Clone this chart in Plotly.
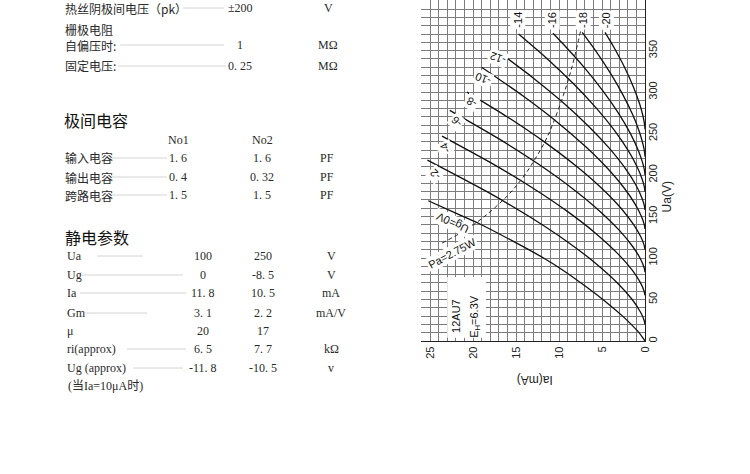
import plotly.graph_objects as go

# 12AU7 plate curves: anode current Ia (mA) against anode voltage Ua (V)
ug_labels = ["Ug=0V", "-2", "-4", "-6", "-8", "-10", "-12", "-14", "-16", "-18", "-20"]

ua_g0 = [0, 10, 20, 30, 45, 65, 85, 100, 120, 141, 155, 169]
ia_g0 = [0, 0.7, 1.6, 2.6, 4.3, 6.8, 9.5, 11.8, 15.3, 19.2, 22.2, 25.2]
ua_g2 = [20, 25, 35, 50, 70, 95, 120, 150, 180, 218]
ia_g2 = [0, 0.1, 0.53, 1.49, 3.21, 5.9, 9.08, 13.46, 18.38, 25.3]
ua_g4 = [55, 60, 70, 85, 105, 130, 155, 185, 215, 247]
ia_g4 = [0, 0.1, 0.52, 1.46, 3.14, 5.76, 8.87, 13.15, 17.95, 23.6]
ua_g6 = [83, 88, 98, 113, 133, 158, 183, 213, 243, 278]
ia_g6 = [0, 0.09, 0.48, 1.37, 2.95, 5.42, 8.34, 12.36, 16.88, 22.7]
ua_g8 = [110, 115, 125, 140, 160, 185, 210, 240, 270, 300]
ia_g8 = [0, 0.09, 0.46, 1.3, 2.79, 5.13, 7.9, 11.71, 15.99, 20.7]
ua_g10 = [135, 140, 150, 165, 185, 210, 235, 265, 295, 330]
ia_g10 = [0, 0.08, 0.41, 1.15, 2.47, 4.53, 6.98, 10.34, 14.13, 19.0]
ua_g12 = [158, 163, 173, 188, 208, 233, 258, 288, 318, 349]
ia_g12 = [0, 0.07, 0.38, 1.06, 2.29, 4.21, 6.48, 9.6, 13.12, 17.1]
ua_g14 = [180, 185, 195, 210, 230, 255, 280, 310, 340, 370]
ia_g14 = [0, 0.06, 0.33, 0.92, 1.98, 3.64, 5.61, 8.31, 11.35, 14.7]
ua_g16 = [200, 205, 215, 230, 250, 275, 300, 330, 360, 371]
ia_g16 = [0, 0.05, 0.28, 0.79, 1.69, 3.11, 4.79, 7.1, 9.7, 10.7]
ua_g18 = [222, 227, 237, 252, 272, 297, 322, 350, 372]
ia_g18 = [0, 0.04, 0.23, 0.65, 1.4, 2.58, 3.97, 5.75, 7.3]
ua_g20 = [255, 260, 270, 285, 305, 330, 355, 372]
ia_g20 = [0, 0.04, 0.21, 0.6, 1.3, 2.38, 3.67, 4.65]

# max anode dissipation Pa = 2.75 W
pa_ia = [7.5, 8.5, 9.5, 10.7, 11.6, 12.8, 14.2, 16.0, 18.8, 21.0, 23.6]
pa_ua = [373, 330, 296, 262, 241, 219, 197, 175, 149, 133, 118]

ia_ticks = [0, 5, 10, 15, 20, 25]
ua_ticks = [0, 50, 100, 150, 200, 250, 300, 350]

# left side tables
limit_names = ["热丝阴极间电压（pk）", "栅极电阻", "自偏压时:", "固定电压:"]
limit_values = ["±200", "", "1", "0. 25"]
limit_units = ["V", "", "MΩ", "MΩ"]

cap_title = "极间电容"
cap_cols = ["No1", "No2"]
cap_names = ["输入电容", "输出电容", "跨路电容"]
cap_no1 = ["1. 6", "0. 4", "1. 5"]
cap_no2 = ["1. 6", "0. 32", "1. 5"]
cap_units = ["PF", "PF", "PF"]

static_title = "静电参数"
static_names = ["Ua", "Ug", "Ia", "Gm", "μ", "ri(approx)", "Ug (approx)"]
static_no1 = ["100", "0", "11. 8", "3. 1", "20", "6. 5", "-11. 8"]
static_no2 = ["250", "-8. 5", "10. 5", "2. 2", "17", "7. 7", "-10. 5"]
static_units = ["V", "V", "mA", "mA/V", "", "kΩ", "v"]
static_note = "(当Ia=10μA时)"

W, H = 750, 474
CN = "Noto Sans CJK SC"
SERIF = "Liberation Serif, Noto Sans CJK SC"
SANS = "Liberation Sans, Arial"
GRID = "#7c7c7c"


def px(x):
    return x / W


def py(y):
    return 1 - y / H


fig = go.Figure()

curves = [(ua_g0, ia_g0), (ua_g2, ia_g2), (ua_g4, ia_g4), (ua_g6, ia_g6),
          (ua_g8, ia_g8), (ua_g10, ia_g10), (ua_g12, ia_g12), (ua_g14, ia_g14),
          (ua_g16, ia_g16), (ua_g18, ia_g18), (ua_g20, ia_g20)]

for ua, ia in curves:
    fig.add_trace(go.Scatter(x=ia, y=ua, mode="lines",
                             line=dict(color="#111111", width=1.3,
                                       shape="spline", smoothing=0.6),
                             hoverinfo="skip", showlegend=False))

fig.add_trace(go.Scatter(x=pa_ia, y=pa_ua, mode="lines",
                         line=dict(color="#222222", width=1, dash="4px,3px",
                                   shape="spline"),
                         hoverinfo="skip", showlegend=False))

ann = []

# curve labels
lab_pos = [(22.4, 143, -155), (24.4, 201, -135), (23.3, 232, -115),
           (21.9, 264, -135), (20.2, 288, -150), (18.9, 316, -160),
           (17.1, 341, -160), (14.8, 387, -90), (10.8, 387, -90),
           (7.2, 387, -90), (4.5, 387, -90)]
for text, (x, y, ang) in zip(ug_labels, lab_pos):
    ann.append(dict(x=x, y=y, xref="x", yref="y", text=text, textangle=ang,
                    showarrow=False, bgcolor="white", borderpad=1,
                    font=dict(family=SANS, size=11, color="#111")))

ann.append(dict(x=22.4, y=106, xref="x", yref="y", text="Pa=2.75W",
                textangle=-28, showarrow=False, bgcolor="white", borderpad=1,
                font=dict(family=SANS, size=11, color="#111")))
ann.append(dict(x=22.0, y=30, xref="x", yref="y", text="12AU7",
                textangle=-90, showarrow=False,
                font=dict(family=SANS, size=11, color="#111")))
ann.append(dict(x=19.8, y=30, xref="x", yref="y", text="E<sub>H</sub>=6.3V",
                textangle=-90, showarrow=False,
                font=dict(family=SANS, size=11, color="#111")))

# axis titles
ann.append(dict(x=px(667), y=173, xref="paper", yref="y", text="Ua(V)",
                xanchor="center", yanchor="middle",
                textangle=-90, showarrow=False,
                font=dict(family=SANS, size=12, color="#222")))
ann.append(dict(x=12.8, y=py(380), xref="x", yref="paper", text="Ia(mA)",
                xanchor="center", yanchor="middle",
                textangle=180, showarrow=False,
                font=dict(family=SANS, size=12, color="#222")))


def txt(x, y, s, anchor="left", size=12, family=SERIF, color="#2a2a2a"):
    ann.append(dict(x=px(x), y=py(y), xref="paper", yref="paper", text=s,
                    xanchor=anchor, yanchor="middle", showarrow=False,
                    font=dict(family=family, size=size, color=color)))


shapes = []


def leader(x0, x1, y):
    shapes.append(dict(type="line", xref="paper", yref="paper",
                       x0=px(x0), x1=px(x1), y0=py(y), y1=py(y),
                       line=dict(color="#d4d4d4", width=1)))


# limits block
limit_y = [8, 29, 45, 66]
for name, val, unit, y in zip(limit_names, limit_values, limit_units, limit_y):
    txt(63, y, name, family=CN)
    if val:
        txt(240, y, val, anchor="center")
        txt(328, y, unit, anchor="center")
leader(183, 224, 8)
leader(120, 224, 45)
leader(118, 226, 66)

# capacitances
txt(62, 120, cap_title, size=16, family=CN, color="#111")
txt(178, 140, cap_cols[0], anchor="center")
txt(262, 140, cap_cols[1], anchor="center")
cap_y = [158, 177, 195]
for name, a, b, unit, y in zip(cap_names, cap_no1, cap_no2, cap_units, cap_y):
    txt(63, y, name, family=CN)
    txt(178, y, a, anchor="center")
    txt(262, y, b, anchor="center")
    txt(327, y, unit, anchor="center")
    leader(112, 167, y)

# static parameters
txt(63, 237, static_title, size=16, family=CN, color="#111")
static_y = [256, 275, 293, 313, 331, 349, 368]
for name, a, b, unit, y in zip(static_names, static_no1, static_no2,
                               static_units, static_y):
    txt(65, y, name)
    txt(203, y, a, anchor="center")
    txt(263, y, b, anchor="center")
    if unit:
        txt(331, y, unit, anchor="center")
leader(97, 143, 256)
leader(80, 183, 275)
leader(80, 186, 293)
leader(85, 147, 313)
leader(127, 186, 349)
leader(133, 183, 368)
txt(66, 386, static_note)

# white field behind the tube type label
shapes.append(dict(type="rect", xref="x", yref="y", x0=23.0, x1=18.5,
                   y0=4, y1=77, fillcolor="white", line=dict(width=0),
                   layer="above"))

fig.update_layout(
    width=W, height=H,
    margin=dict(l=0, r=0, t=0, b=0),
    paper_bgcolor="white", plot_bgcolor="white",
    annotations=ann, shapes=shapes,
    xaxis=dict(domain=[421.4 / W, 645 / W], range=[26, 0],
               tickmode="array", tickvals=ia_ticks, tickangle=-90,
               showgrid=True, gridcolor=GRID, gridwidth=1,
               minor=dict(tickmode="linear", tick0=0, dtick=1, showgrid=True,
                          gridcolor=GRID, gridwidth=1),
               showline=True, linecolor="#222", linewidth=1.2,
               zeroline=False, ticks="", automargin=False,
               tickfont=dict(family=SANS, size=11, color="#222")),
    yaxis=dict(domain=[1 - 341 / H, 1], range=[0, 411], side="right",
               tickmode="array", tickvals=ua_ticks, tickangle=-90,
               showgrid=True, gridcolor=GRID, gridwidth=1,
               minor=dict(tickmode="linear", tick0=0, dtick=10, showgrid=True,
                          gridcolor=GRID, gridwidth=1),
               showline=True, linecolor="#222", linewidth=1.2,
               zeroline=False, ticks="", automargin=False,
               ticklabelstandoff=-2,
               tickfont=dict(family=SANS, size=11, color="#222")),
)

# the page body has a default 8px margin, drop it so the figure sits at 0,0
page_css = ("document.body.style.margin='0';"
            "document.body.style.overflow='hidden';"
            "document.documentElement.style.overflow='hidden';")
fig.write_html("out.html", post_script=page_css,
               config={"displayModeBar": False})
